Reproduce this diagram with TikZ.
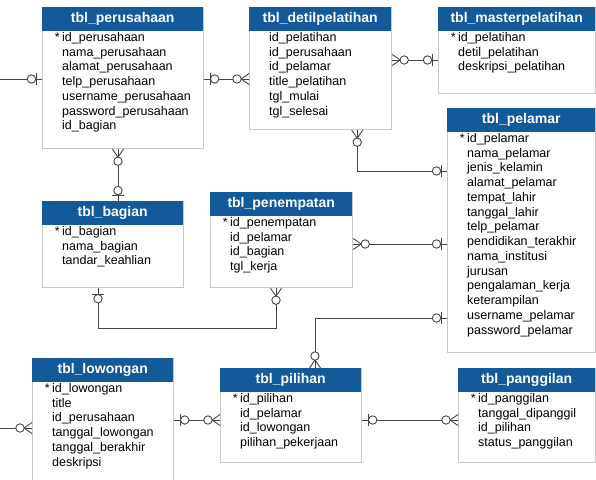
\documentclass[tikz,border=0pt]{standalone}
\usepackage{fontspec}
\setmainfont{Liberation Sans}
\usetikzlibrary{calc}
\definecolor{hdrblue}{RGB}{19,90,155}
\definecolor{edgegray}{RGB}{200,200,200}
\definecolor{linkgray}{RGB}{70,70,70}
\newcommand{\pk}{\llap{*\hspace{2.5pt}}}
\tikzset{
  zeroone/.pic={
    \draw[linkgray, line width=0.9pt] (6,-6) -- (6,6);
    \draw[linkgray, line width=0.9pt, fill=white] (10.5,0) circle[radius=4.2pt];
  },
  zeromany/.pic={
    \draw[linkgray, line width=0.9pt] (0,-5.5) -- (8,0) -- (0,5.5);
    \draw[linkgray, line width=0.9pt, fill=white] (12,0) circle[radius=4.2pt];
  }
}
\begin{document}
\begin{tikzpicture}[x=1pt,y=-1pt]
  \tikzstyle{tbl} = [draw=edgegray, line width=1.2pt, fill=white, anchor=north west, inner sep=0pt]
  \tikzstyle{hdr} = [fill=hdrblue, anchor=north west, inner sep=0pt, minimum height=24pt, text=white, font=\fontsize{14}{16}\selectfont\bfseries]
  \tikzstyle{cols} = [anchor=north west, inner sep=0pt, align=left, font=\fontsize{12.5}{14.75}\selectfont]
  \tikzstyle{rel} = [color=linkgray, line width=0.9pt]
  \path[use as bounding box, clip] (0,0) rectangle (596,479);

  % tables
  \node[tbl, minimum width=161pt, minimum height=141pt] (perusahaan) at (42,7) {};
  \node[tbl, minimum width=142pt, minimum height=122pt] (detil) at (249,7) {};
  \node[tbl, minimum width=157pt, minimum height=86pt] (master) at (438,7) {};
  \node[tbl, minimum width=148pt, minimum height=244pt] (pelamar) at (447,108) {};
  \node[tbl, minimum width=141pt, minimum height=86pt] (bagian) at (42,201) {};
  \node[tbl, minimum width=142pt, minimum height=95pt] (penempatan) at (210,192) {};
  \node[tbl, minimum width=141pt, minimum height=130pt] (lowongan) at (32,358) {};
  \node[tbl, minimum width=141pt, minimum height=94pt] (pilihan) at (220,368) {};
  \node[tbl, minimum width=137pt, minimum height=94pt] (panggilan) at (458,368) {};

  % headers
  \node[hdr, minimum width=161pt] at (perusahaan.north west) {tbl\_perusahaan};
  \node[hdr, minimum width=142pt] at (detil.north west) {tbl\_detilpelatihan};
  \node[hdr, minimum width=157pt] at (master.north west) {tbl\_masterpelatihan};
  \node[hdr, minimum width=148pt] at (pelamar.north west) {tbl\_pelamar};
  \node[hdr, minimum width=141pt] at (bagian.north west) {tbl\_bagian};
  \node[hdr, minimum width=142pt] at (penempatan.north west) {tbl\_penempatan};
  \node[hdr, minimum width=141pt] at (lowongan.north west) {tbl\_lowongan};
  \node[hdr, minimum width=141pt] at (pilihan.north west) {tbl\_pilihan};
  \node[hdr, minimum width=137pt] at (panggilan.north west) {tbl\_panggilan};

  % columns
  \node[cols] (perusahaan-c) at ($(perusahaan.north west)+(20,25)$) {\pk id\_perusahaan\\nama\_perusahaan\\alamat\_perusahaan\\telp\_perusahaan\\username\_perusahaan\\password\_perusahaan\\id\_bagian};
  \node[cols] (detil-c) at ($(detil.north west)+(20,25)$) {id\_pelatihan\\id\_perusahaan\\id\_pelamar\\title\_pelatihan\\tgl\_mulai\\tgl\_selesai};
  \node[cols] (master-c) at ($(master.north west)+(20,25)$) {\pk id\_pelatihan\\detil\_pelatihan\\deskripsi\_pelatihan};
  \node[cols] (pelamar-c) at ($(pelamar.north west)+(20,25)$) {\pk id\_pelamar\\nama\_pelamar\\jenis\_kelamin\\alamat\_pelamar\\tempat\_lahir\\tanggal\_lahir\\telp\_pelamar\\pendidikan\_terakhir\\nama\_institusi\\jurusan\\pengalaman\_kerja\\keterampilan\\username\_pelamar\\password\_pelamar};
  \node[cols] (bagian-c) at ($(bagian.north west)+(20,25)$) {\pk id\_bagian\\nama\_bagian\\tandar\_keahlian};
  \node[cols] (penempatan-c) at ($(penempatan.north west)+(20,25)$) {\pk id\_penempatan\\id\_pelamar\\id\_bagian\\tgl\_kerja};
  \node[cols] (lowongan-c) at ($(lowongan.north west)+(20,25)$) {\pk id\_lowongan\\title\\id\_perusahaan\\tanggal\_lowongan\\tanggal\_berakhir\\deskripsi};
  \node[cols] (pilihan-c) at ($(pilihan.north west)+(20,25)$) {\pk id\_pilihan\\id\_pelamar\\id\_lowongan\\pilihan\_pekerjaan};
  \node[cols] (panggilan-c) at ($(panggilan.north west)+(20,25)$) {\pk id\_panggilan\\tanggal\_dipanggil\\id\_pilihan\\status\_panggilan};

  % relations
  \coordinate (outA) at (0,79);
  \coordinate (outB) at (0,428);
  \draw[rel] (outA) -- (outA -| perusahaan.west);
  \draw[rel] (outB) -- (outB -| lowongan.west);
  \draw[rel] ($(perusahaan.north east)+(0,72)$) coordinate (pd) -- (pd -| detil.west);
  \draw[rel] ($(detil.north east)+(0,53)$) coordinate (dm) -- (dm -| master.west);
  \draw[rel] ($(detil.south east)+(-35,0)$) coordinate (dp) |- ($(pelamar.north west)+(0,63)$) coordinate (pd2);
  \draw[rel] ($(perusahaan.south west)+(76,0)$) coordinate (pb) -- (pb |- bagian.north);
  \draw[rel] ($(penempatan.north east)+(0,52)$) coordinate (ep) -- (ep -| pelamar.west);
  \draw[rel] ($(bagian.south west)+(56,0)$) coordinate (be) -- ++(0,40) -| ($(penempatan.south west)+(66,0)$) coordinate (eb);
  \draw[rel] ($(pelamar.north west)+(0,210)$) coordinate (pp) -| ($(pilihan.north west)+(95,0)$) coordinate (ip);
  \draw[rel] ($(pilihan.north west)+(0,52)$) coordinate (il) -- (il -| lowongan.east);
  \draw[rel] ($(pilihan.north east)+(0,52)$) coordinate (ig) -- (ig -| panggilan.west);

  % ends
  \pic[rotate=180] at (outA -| perusahaan.west) {zeroone};
  \pic[rotate=180] at (outB -| lowongan.west) {zeromany};
  \pic at (pd) {zeroone};
  \pic[rotate=180] at (pd -| detil.west) {zeromany};
  \pic at (dm) {zeromany};
  \pic[rotate=180] at (dm -| master.west) {zeroone};
  \pic[rotate=-90] at (dp) {zeromany};
  \pic[rotate=180] at (pd2) {zeroone};
  \pic[rotate=-90] at (pb) {zeromany};
  \pic[rotate=90] at (pb |- bagian.north) {zeroone};
  \pic at (ep) {zeromany};
  \pic[rotate=180] at (ep -| pelamar.west) {zeroone};
  \pic[rotate=-90] at (be) {zeroone};
  \pic[rotate=-90] at (eb) {zeromany};
  \pic[rotate=180] at (pp) {zeroone};
  \pic[rotate=90] at (ip) {zeromany};
  \pic at (il -| lowongan.east) {zeroone};
  \pic[rotate=180] at (il) {zeromany};
  \pic at (ig) {zeroone};
  \pic[rotate=180] at (ig -| panggilan.west) {zeromany};
\end{tikzpicture}
\end{document}
